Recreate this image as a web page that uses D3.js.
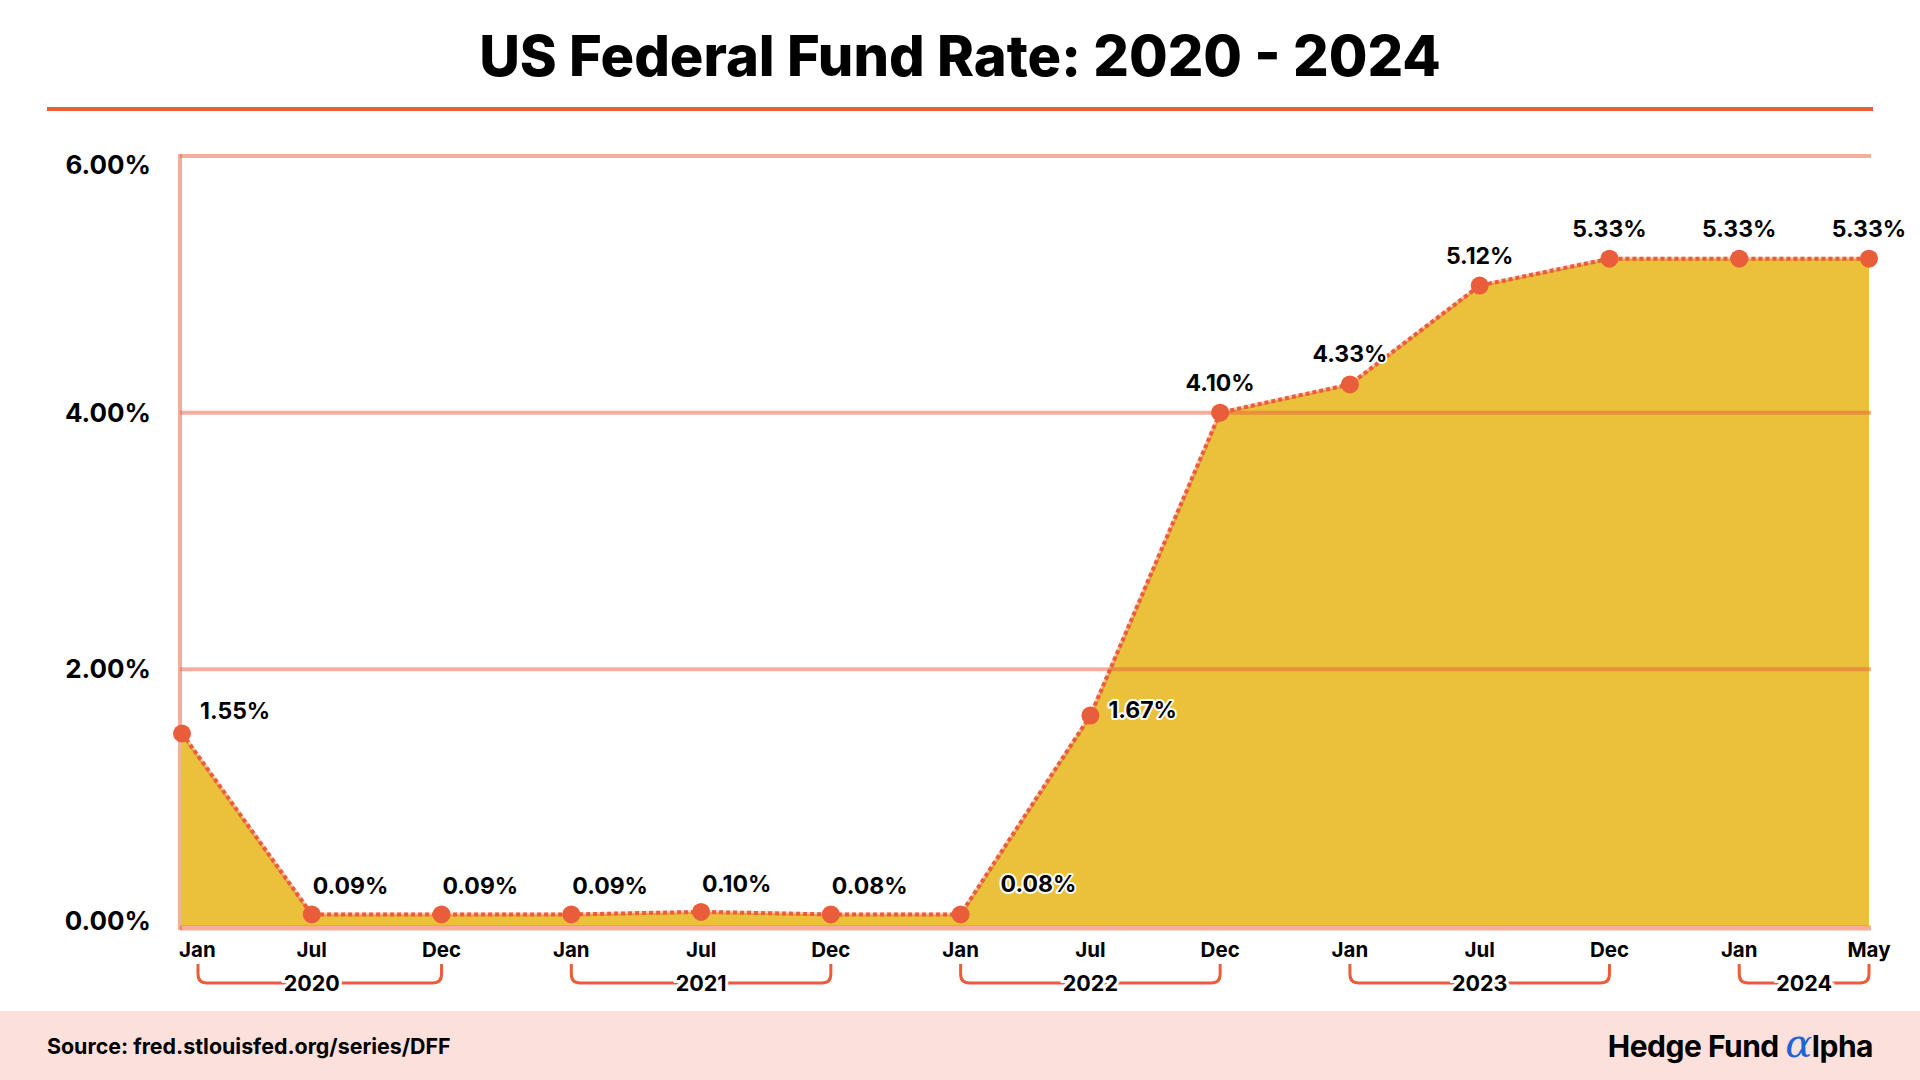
<!DOCTYPE html>
<html>
<head>
<meta charset="utf-8">
<script src="https://cdn.jsdelivr.net/npm/d3@7"></script>
<style>
  html, body { margin: 0; padding: 0; background: #ffffff; }
  svg { display: block; }
  text { font-family: Inter, "Noto Sans", Roboto, sans-serif; }
</style>
</head>
<body>
<svg id="chart" width="1920" height="1080"></svg>
<script>
// ---- data ----
const months = ["Jan","Jul","Dec","Jan","Jul","Dec","Jan","Jul","Dec","Jan","Jul","Dec","Jan","May"];
const years  = ["2020","2020","2020","2021","2021","2021","2022","2022","2022","2023","2023","2023","2024","2024"];
const rates  = [1.50, 0.09, 0.09, 0.09, 0.11, 0.09, 0.09, 1.64, 4.00, 4.22, 4.99, 5.20, 5.20, 5.20];
const rateLabels = ["1.55%","0.09%","0.09%","0.09%","0.10%","0.08%","0.08%","1.67%","4.10%","4.33%","5.12%","5.33%","5.33%","5.33%"];
const yTicks = [0, 2, 4, 6];
const yearList = ["2020","2021","2022","2023","2024"];
const titleText = "US Federal Fund Rate: 2020 - 2024";
const sourceText = "Source: fred.stlouisfed.org/series/DFF";

// ---- setup ----
const W = 1920, H = 1080;
const svg = d3.select("#chart");
const ORANGE = "#E95D3A";
const FILL = "#EBC13C";
const GRID = "rgba(233,93,58,0.5)";

const keys = months.map((m, i) => m + " " + years[i]);
const x = d3.scalePoint().domain(keys).range([182, 1869]);
const y = d3.scaleLinear().domain([0, 6]).range([926, 156]);
const data = keys.map((k, i) => ({ k, v: rates[i], label: rateLabels[i], m: months[i], yr: years[i], i }));

// Title
svg.append("text")
  .attr("x", W / 2).attr("y", 76)
  .attr("text-anchor", "middle")
  .attr("font-size", 56).attr("font-weight", 800)
  .attr("fill", "#000")
  .text(titleText);
svg.append("line")
  .attr("x1", 47).attr("x2", 1873).attr("y1", 109).attr("y2", 109)
  .attr("stroke", ORANGE).attr("stroke-width", 4);

// Area
const area = d3.area().x(d => x(d.k)).y0(y(0)).y1(d => y(d.v));
svg.append("path").datum(data).attr("d", area).attr("fill", FILL);

// Gridlines (drawn over area, semi-transparent)
svg.append("g").selectAll("line").data(yTicks).join("line")
  .attr("x1", 180).attr("x2", 1871)
  .attr("y1", d => y(d) + (d === 0 ? 2 : 0))
  .attr("y2", d => y(d) + (d === 0 ? 2 : 0))
  .attr("stroke", GRID).attr("stroke-width", d => d === 0 ? 5 : 4);
svg.append("line")
  .attr("x1", 180).attr("x2", 180).attr("y1", y(6) - 2).attr("y2", y(0) + 4)
  .attr("stroke", GRID).attr("stroke-width", 4);

// Y tick labels
svg.append("g").selectAll("text").data(yTicks).join("text")
  .attr("x", 151)
  .attr("y", d => y(d) + (d === 6 ? 9 : d === 0 ? -5 : 0))
  .attr("dy", "0.35em")
  .attr("text-anchor", "end")
  .attr("font-size", 26).attr("font-weight", 700).attr("fill", "#000")
  .text(d => d.toFixed(2) + "%");

// Line
const line = d3.line().x(d => x(d.k)).y(d => y(d.v));
svg.append("path").datum(data).attr("d", line)
  .attr("fill", "none").attr("stroke", "rgba(233,93,58,0.3)").attr("stroke-width", 4);
svg.append("path").datum(data).attr("d", line)
  .attr("fill", "none").attr("stroke", ORANGE).attr("stroke-width", 4)
  .attr("stroke-dasharray", "4,3");

// Dots
svg.append("g").selectAll("circle").data(data).join("circle")
  .attr("cx", d => x(d.k)).attr("cy", d => y(d.v)).attr("r", 9)
  .attr("fill", ORANGE);

// Value labels
function labelPos(d) {
  const px = x(d.k), py = y(d.v);
  if (d.i === 0) return { x: px + 18, y: py - 15, a: "start" };
  if (d.i <= 5) return { x: px + 1, y: py - 20, a: "start" };
  if (d.i === 6) return { x: px + 40, y: py - 22, a: "start" };
  if (d.i === 7) return { x: px + 18, y: py + 2, a: "start" };
  return { x: px, y: py - 22, a: "middle" };
}
svg.append("g").selectAll("text").data(data).join("text")
  .each(function (d) {
    const p = labelPos(d);
    d3.select(this).attr("x", p.x).attr("y", p.y).attr("text-anchor", p.a);
  })
  .attr("font-size", 23).attr("font-weight", 700).attr("fill", "#000")
  .attr("stroke", "#fff").attr("stroke-width", 4).attr("stroke-linejoin", "round")
  .attr("paint-order", "stroke")
  .text(d => d.label);

// Month labels
svg.append("g").selectAll("text").data(data).join("text")
  .attr("x", d => d.i === 0 ? x(d.k) - 3 : x(d.k))
  .attr("y", 957)
  .attr("text-anchor", d => d.i === 0 ? "start" : "middle")
  .attr("font-size", 20.5).attr("font-weight", 700).attr("fill", "#000")
  .text(d => d.m);

// Year brackets
const yTop = 964, yBot = 983, rr = 9;
yearList.forEach((yr, j) => {
  const pts = data.filter(d => d.yr === yr);
  let x0 = x(pts[0].k), x1 = x(pts[pts.length - 1].k);
  if (j === 0) x0 = x0 + 16;
  const mid = (x(pts[0].k) + x1) / 2;
  const p = `M${x0},${yTop} L${x0},${yBot - rr} Q${x0},${yBot} ${x0 + rr},${yBot} L${x1 - rr},${yBot} Q${x1},${yBot} ${x1},${yBot - rr} L${x1},${yTop}`;
  svg.append("path").attr("d", p).attr("fill", "none")
    .attr("stroke", ORANGE).attr("stroke-width", 3);
  svg.append("text")
    .attr("x", mid).attr("y", yBot).attr("dy", "0.36em")
    .attr("text-anchor", "middle")
    .attr("font-size", 21.5).attr("font-weight", 700).attr("fill", "#000")
    .attr("stroke", "#fff").attr("stroke-width", 6).attr("paint-order", "stroke")
    .text(yr);
});

// Footer
svg.append("rect").attr("x", 0).attr("y", 1011).attr("width", W).attr("height", H - 1011)
  .attr("fill", "#FCE0DB");
svg.append("text")
  .attr("x", 47).attr("y", 1047).attr("dy", "0.35em")
  .attr("font-size", 21.4).attr("font-weight", 700).attr("fill", "#000")
  .text(sourceText);
const logo = svg.append("text")
  .attr("x", 1873).attr("y", 1046).attr("dy", "0.35em")
  .attr("text-anchor", "end")
  .attr("font-size", 30).attr("font-weight", 700).attr("fill", "#000")
  .attr("letter-spacing", -0.5);
logo.append("tspan").text("Hedge Fund ");
logo.append("tspan").attr("fill", "#1F63D6").attr("font-size", 40).attr("font-weight", 400)
  .attr("font-family", "'DejaVu Serif', serif").attr("font-style", "italic").text("α");
logo.append("tspan").text("lpha");
</script>
</body>
</html>
